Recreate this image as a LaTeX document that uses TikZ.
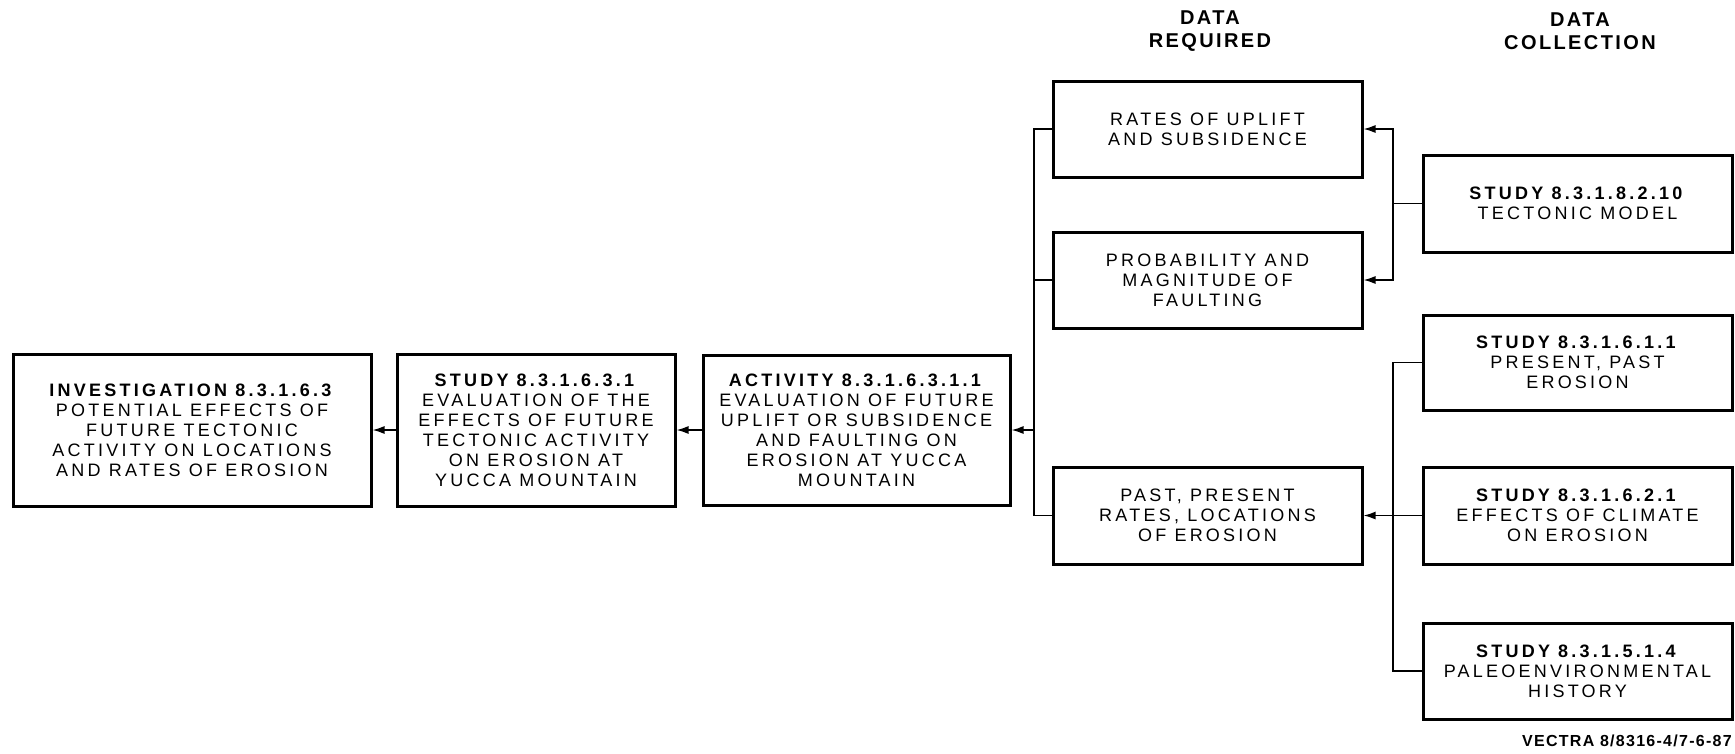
\documentclass[tikz,border=0pt]{standalone}
\usepackage{fontspec}
\newfontfamily\boxfont{Liberation Sans}[LetterSpace=18]
\newfontfamily\hdrfont{Liberation Sans}[LetterSpace=12]
\newfontfamily\footfont{Liberation Sans}[LetterSpace=8]
\usetikzlibrary{arrows.meta}
\tikzset{
  box/.style={draw, line width=3pt, minimum width=#1, inner sep=0pt, align=center,
    font=\boxfont\fontsize{18}{20}\selectfont},
  conn/.style={line width=1.6pt},
  arr/.style={conn, -{Latex[length=12pt,width=8pt]}},
  hdr/.style={align=center, inner sep=0pt, font=\hdrfont\bfseries\fontsize{20}{22.5}\selectfont}
}
\begin{document}
\begin{tikzpicture}[x=1pt,y=-1pt]
\useasboundingbox (0,0) rectangle (1735,753);
% left chain
\node[box=358pt, minimum height=152pt] (inv) at (192,430)
  {\textbf{INVESTIGATION 8.3.1.6.3}\\POTENTIAL EFFECTS OF\\FUTURE TECTONIC\\ACTIVITY ON LOCATIONS\\AND RATES OF EROSION};
\node[box=278pt, minimum height=152pt] (study) at (536,430)
  {\textbf{STUDY 8.3.1.6.3.1}\\EVALUATION OF THE\\EFFECTS OF FUTURE\\TECTONIC ACTIVITY\\ON EROSION AT\\YUCCA MOUNTAIN};
\node[box=307pt, minimum height=150pt] (act) at (856.5,430)
  {\textbf{ACTIVITY 8.3.1.6.3.1.1}\\EVALUATION OF FUTURE\\UPLIFT OR SUBSIDENCE\\AND FAULTING ON\\EROSION AT YUCCA\\MOUNTAIN};
% data required
\node[hdr] (h1) at (1210,31) {DATA\\REQUIRED};
\node[box=309pt, minimum height=96pt] (rates) at (1207.5,129) {RATES OF UPLIFT\\AND SUBSIDENCE};
\node[box=309pt, minimum height=96pt] (prob) at (1207.5,280) {PROBABILITY AND\\MAGNITUDE OF\\FAULTING};
\node[box=309pt, minimum height=97pt] (past) at (1207.5,515.5) {PAST, PRESENT\\RATES, LOCATIONS\\OF EROSION};
% data collection
\node[hdr] (h2) at (1580,31) {DATA\\COLLECTION};
\node[box=309pt, minimum height=97pt] (tect) at (1577.5,203.5) {\textbf{STUDY 8.3.1.8.2.10}\\TECTONIC MODEL};
\node[box=309pt, minimum height=95pt] (pres) at (1577.5,362.5) {\textbf{STUDY 8.3.1.6.1.1}\\PRESENT, PAST\\EROSION};
\node[box=309pt, minimum height=97pt] (clim) at (1577.5,515.5) {\textbf{STUDY 8.3.1.6.2.1}\\EFFECTS OF CLIMATE\\ON EROSION};
\node[box=309pt, minimum height=96pt] (paleo) at (1577.5,671) {\textbf{STUDY 8.3.1.5.1.4}\\PALEOENVIRONMENTAL\\HISTORY};
% footer
\node[anchor=base east, inner sep=0pt, font=\footfont\bfseries\fontsize{16}{18}\selectfont] (foot) at (1732,746) {VECTRA 8/8316-4/7-6-87};
% connectors
\coordinate (busL) at (1034,430);
\coordinate (busR) at (1393,203.5);
\coordinate (busB) at (1393,515.5);
\draw[arr] (study.west) -- (inv.east);
\draw[arr] (act.west) -- (study.east);
\draw[arr] (busL) -- (act.east);
\draw[conn] (rates.west) -| (busL);
\draw[conn] (past.west) -| (busL);
\draw[conn] (prob.west) -- (prob.west -| busL);
\draw[conn] (tect.west) -- (busR);
\draw[arr] (busR) |- (rates.east);
\draw[arr] (busR) |- (prob.east);
\draw[conn] (pres.west) -| (busB);
\draw[conn] (paleo.west) -| (busB);
\draw[arr] (clim.west) -- (past.east);
\end{tikzpicture}
\end{document}
